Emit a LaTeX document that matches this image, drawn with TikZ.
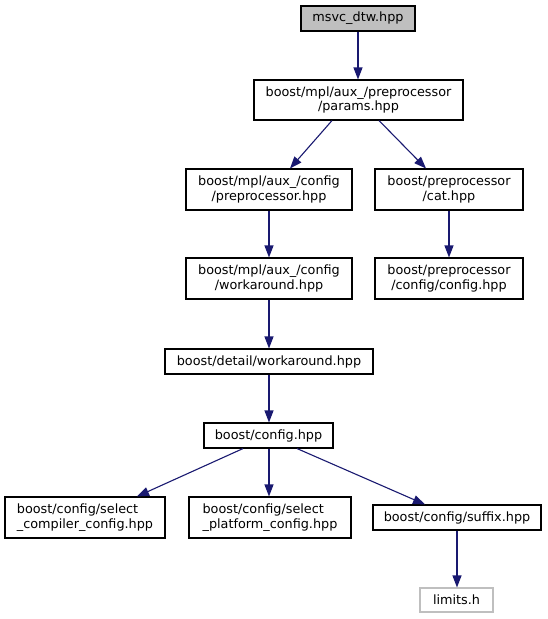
\documentclass[tikz,border=0pt]{standalone}
\usepackage{fontspec}
\setmainfont{DejaVu Sans}
\usetikzlibrary{arrows.meta}
\definecolor{edgeblue}{RGB}{25,25,112}
\definecolor{graybox}{RGB}{191,191,191}
\begin{document}
\begin{tikzpicture}[x=1pt,y=-1pt,
  box/.style={draw=black,line width=1.1pt,fill=white,rectangle,inner sep=0pt,align=center,
    font=\fontsize{12.8}{14.5}\selectfont},
  lbox/.style={box,align=left},
  edge/.style={draw=edgeblue,line width=1.1pt,-{Triangle[length=12pt,width=9pt]}}]
\useasboundingbox (0,0) rectangle (547,619);
\node[box,fill=graybox,minimum width=114pt,minimum height=25pt] (msvc) at (358,18.5) {msvc\_dtw.hpp};
\node[box,minimum width=209pt,minimum height=40pt] (params) at (358.5,100) {boost/mpl/aux\_/preprocessor\\/params.hpp};
\node[box,minimum width=166pt,minimum height=41pt] (pre) at (269,189.5) {boost/mpl/aux\_/config\\/preprocessor.hpp};
\node[box,minimum width=148pt,minimum height=41pt] (cat) at (449,189.5) {boost/preprocessor\\/cat.hpp};
\node[box,minimum width=166pt,minimum height=41pt] (mplw) at (269,278.5) {boost/mpl/aux\_/config\\/workaround.hpp};
\node[box,minimum width=148pt,minimum height=41pt] (ppc) at (449,278.5) {boost/preprocessor\\/config/config.hpp};
\node[box,minimum width=208pt,minimum height=25pt] (dw) at (269,361.5) {boost/detail/workaround.hpp};
\node[box,minimum width=129pt,minimum height=25pt] (cfg) at (268.5,435.5) {boost/config.hpp};
\node[lbox,minimum width=160pt,minimum height=41pt] (comp) at (85,517.5) {boost/config/select\\\_compiler\_config.hpp};
\node[lbox,minimum width=162pt,minimum height=41pt] (plat) at (270,517.5) {boost/config/select\\\_platform\_config.hpp};
\node[box,minimum width=168pt,minimum height=25pt] (suf) at (457,517.5) {boost/config/suffix.hpp};
\node[box,draw=graybox,minimum width=73pt,minimum height=24pt] (lim) at (456.5,600) {limits.h};

\draw[edge] (msvc.south) -- (msvc.south |- params.north);
\draw[edge] ([xshift=-26.5pt]params.south) -- ([xshift=21pt]pre.north);
\draw[edge] ([xshift=20.5pt]params.south) -- ([xshift=-23pt]cat.north);
\draw[edge] (pre.south) -- (mplw.north);
\draw[edge] (cat.south) -- (ppc.north);
\draw[edge] (mplw.south) -- (dw.north);
\draw[edge] (dw.south) -- (dw.south |- cfg.north);
\draw[edge] ([xshift=-25.5pt]cfg.south) -- ([xshift=52pt]comp.north);
\draw[edge] ([xshift=0.5pt]cfg.south) -- ([xshift=0.5pt]cfg.south |- plat.north);
\draw[edge] ([xshift=28.5pt]cfg.south) -- ([xshift=-32pt]suf.north);
\draw[edge] (suf.south) -- (suf.south |- lim.north);
\end{tikzpicture}
\end{document}
